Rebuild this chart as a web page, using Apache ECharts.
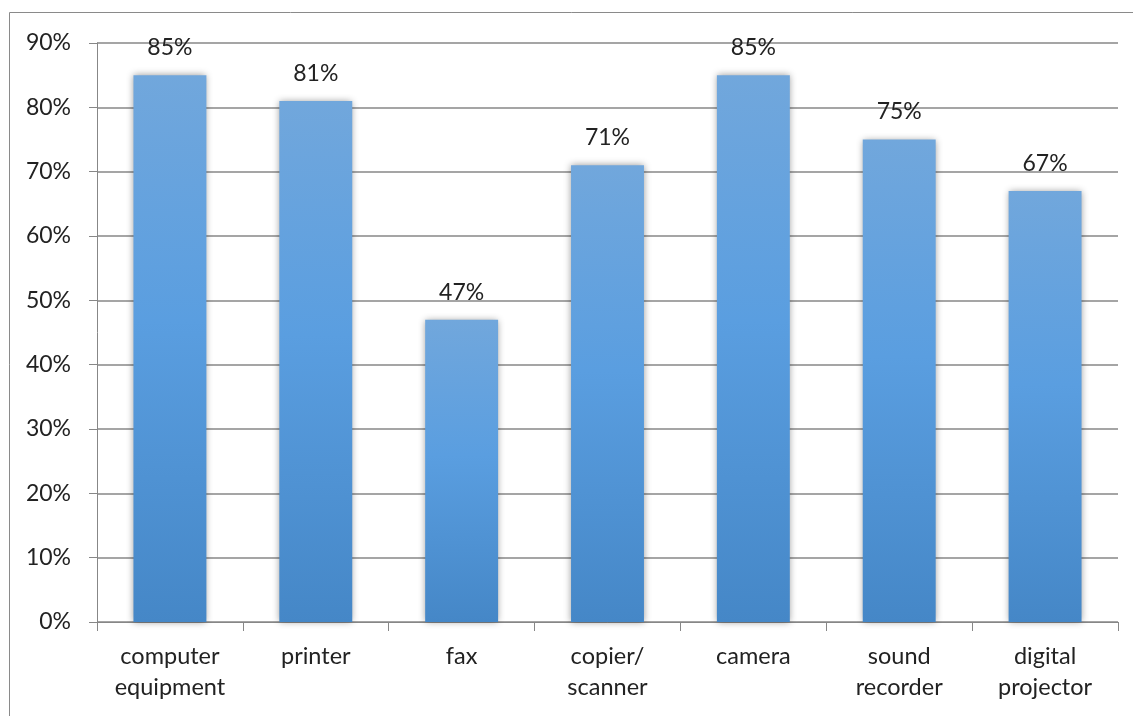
<!DOCTYPE html>
<html>
<head>
<meta charset="utf-8">
<script src="https://cdn.jsdelivr.net/npm/echarts@6/dist/echarts.min.js"></script>
<style>
  html, body { margin: 0; padding: 0; background: #fff; }
  #chart { width: 1133px; height: 716px; }
</style>
</head>
<body>
<div id="chart"></div>
<script>
// Equipment categories and the share for each one
const categories = ['computer\nequipment', 'printer', 'fax', 'copier/\nscanner', 'camera', 'sound\nrecorder', 'digital\nprojector'];
const shares = [85, 81, 47, 71, 85, 75, 67];

// Value axis range
const axisMin = 0;
const axisMax = 90;
const axisStep = 10;

const chart = echarts.init(document.getElementById('chart'), null, { renderer: 'canvas' });
const fontFamily = 'Lato, "Open Sans", sans-serif';
const gridColor = '#878787';
const textColor = '#222';

chart.setOption({
  animation: false,
  graphic: [{
    type: 'rect',
    shape: { x: 9.5, y: 12.5, width: 1300, height: 900 },
    style: { fill: 'none', stroke: '#8a8a8a', lineWidth: 1 },
    silent: true
  }],
  grid: { left: 97, right: 15, top: 43, bottom: 94 },
  xAxis: {
    type: 'category',
    data: categories,
    boundaryGap: true,
    axisLine: { show: true, lineStyle: { color: gridColor, width: 1 } },
    axisTick: { show: true, length: 9, alignWithLabel: false, lineStyle: { color: gridColor } },
    axisLabel: {
      color: textColor,
      fontFamily: fontFamily,
      fontSize: 23.5,
      lineHeight: 31,
      margin: 19,
      interval: 0
    }
  },
  yAxis: {
    type: 'value',
    min: axisMin,
    max: axisMax,
    interval: axisStep,
    axisLine: { show: true, lineStyle: { color: gridColor, width: 1 } },
    axisTick: { show: true, length: 8, lineStyle: { color: gridColor } },
    splitLine: { show: true, lineStyle: { color: gridColor, width: 1.6 } },
    axisLabel: {
      color: textColor,
      fontFamily: fontFamily,
      fontSize: 23,
      margin: 26,
      formatter: v => v + '%'
    }
  },
  series: [{
    type: 'bar',
    data: shares,
    barWidth: '50%',
    itemStyle: {
      color: new echarts.graphic.LinearGradient(0, 0, 0, 1, [
        { offset: 0, color: '#71a7dc' },
        { offset: 0.45, color: '#5a9ee0' },
        { offset: 1, color: '#4587c7' }
      ]),
      shadowColor: 'rgba(0,0,0,0.4)',
      shadowBlur: 7,
      shadowOffsetX: 0,
      shadowOffsetY: 0
    },
    label: {
      show: true,
      position: 'top',
      distance: 16,
      color: textColor,
      fontFamily: fontFamily,
      fontSize: 23,
      formatter: p => p.value + '%'
    }
  }]
});
</script>
</body>
</html>
